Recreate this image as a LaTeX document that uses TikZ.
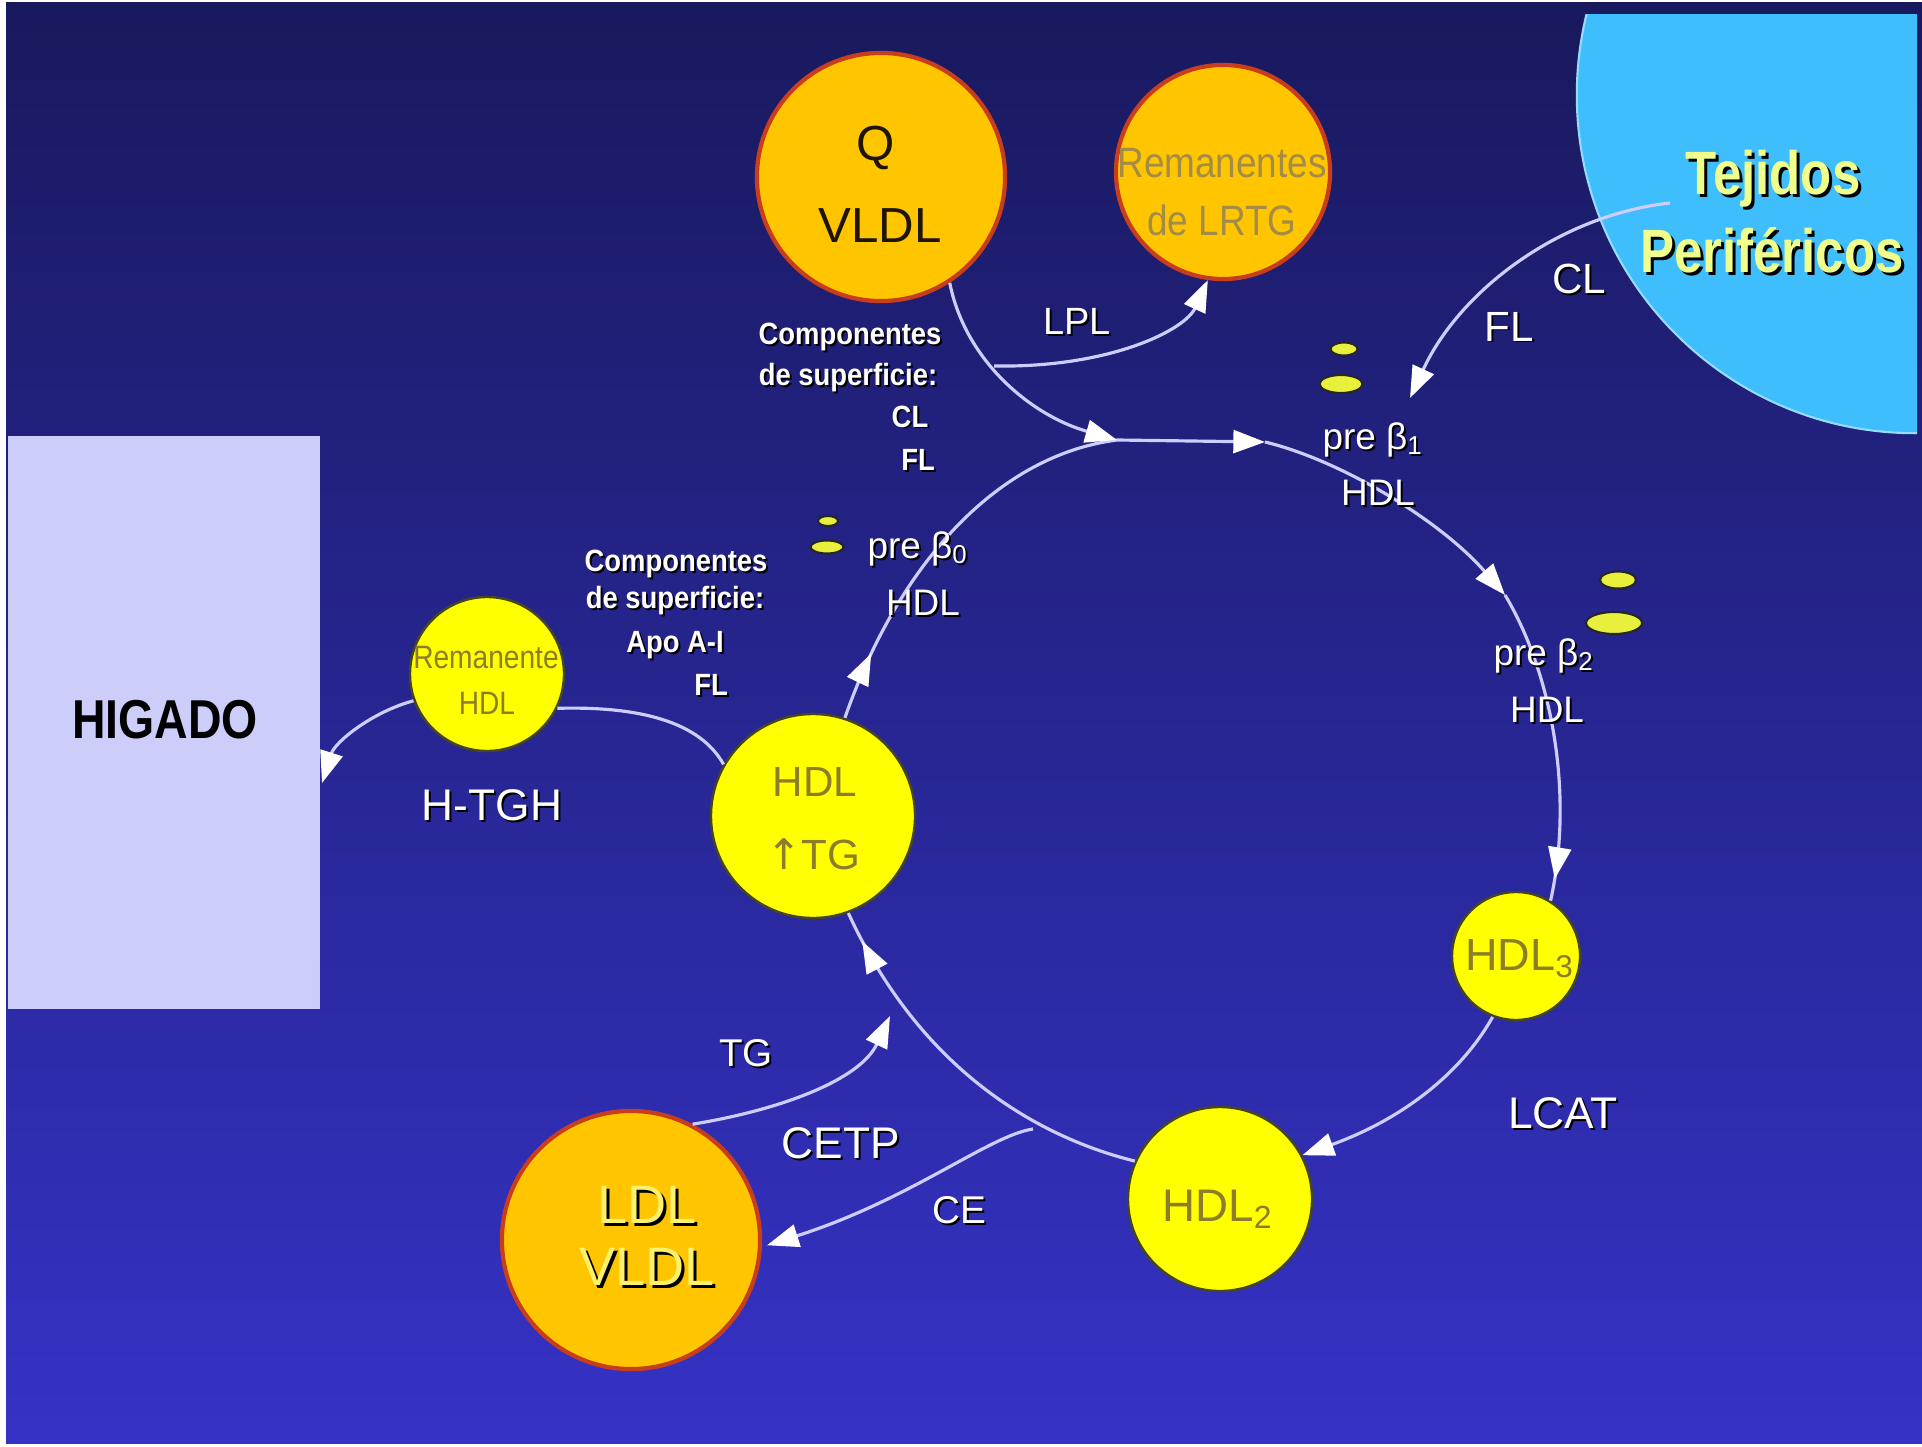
\documentclass[tikz,border=0pt]{standalone}
\usepackage{fontspec}
\setmainfont{Liberation Sans}
\newfontfamily\arrowfont{DejaVu Sans}
\usepackage{graphicx}
\usetikzlibrary{arrows.meta,decorations.markings}

\definecolor{bgtop}{RGB}{25,25,94}
\definecolor{bgbot}{RGB}{53,50,198}
\definecolor{liverfill}{RGB}{205,205,250}
\definecolor{tissuefill}{RGB}{62,190,252}
\definecolor{tissueedge}{RGB}{150,220,255}
\definecolor{gold}{RGB}{255,198,0}
\definecolor{goldedge}{RGB}{200,62,28}
\definecolor{lemon}{RGB}{255,255,0}
\definecolor{lemonedge}{RGB}{70,70,30}
\definecolor{olive}{RGB}{140,125,40}
\definecolor{dullolive}{RGB}{165,140,70}
\definecolor{qtext}{RGB}{30,20,0}
\definecolor{flow}{RGB}{205,205,255}
\definecolor{dotfill}{RGB}{232,240,60}
\definecolor{paleyellow}{RGB}{240,255,140}
\definecolor{ldltext}{RGB}{255,240,110}

\newcommand\fsz[1]{\fontsize{#1}{#1}\selectfont}
\newcommand\tall[2][1.15]{\scalebox{1}[#1]{#2}}
% text with a dark drop shadow: [offset]{options}{name}{position}{text}
\newcommand\shlbl[5][2]{%
  \node[#2,text=black] at ([shift={(#1,#1)}]#4) {#5};
  \node[#2] (#3) at (#4) {#5};}

\tikzset{
  txt/.style={inner sep=0pt, anchor=base},
  wtxt/.style={txt, text=white},
  comptxt/.style={wtxt, font=\bfseries\fsz{7.8}},
  prelbl/.style={wtxt, font=\fsz{10.5}},
  orb/.style={circle, inner sep=0pt},
  goldorb/.style={orb, fill=gold, draw=goldedge, line width=1.2pt},
  lemonorb/.style={orb, fill=lemon, draw=lemonedge, line width=0.7pt},
  flowline/.style={draw=flow, line width=0.9pt},
  headend/.style={-{Triangle[length=9pt,width=6.5pt,color=white]}},
  midtip/.style={postaction={decorate,decoration={markings,
      mark=at position #1 with {\arrow{Triangle[length=9pt,width=6.5pt,color=white]}}}}},
  lipdot/.style={fill=dotfill, draw=black!85, line width=0.6pt},
}

\begin{document}
\begin{tikzpicture}[x=0.01cm,y=-0.01cm]
\useasboundingbox (0,0) rectangle (1922,1446);

% page and background
\fill[white] (0,0) rectangle (1922,1446);
\shade[top color=bgtop, bottom color=bgbot] (6,3) rectangle (1922,1443);

% peripheral tissues
\begin{scope}
  \clip (6,15) rectangle (1917,1443);
  \fill[tissuefill] (1915,95) circle[radius=3.38cm];
  \draw[tissueedge, line width=0.6pt] (1915,95) circle[radius=3.38cm];
\end{scope}

% liver
\node[rectangle, fill=liverfill, minimum width=3.12cm, minimum height=5.73cm,
      inner sep=0pt, anchor=north west] (liver) at (7,435) {};

% particles
\node[goldorb, minimum size=2.48cm] (qvldl) at (881,177) {};
\node[goldorb, minimum size=2.14cm] (remlrtg) at (1223,172) {};
\node[lemonorb, minimum size=1.54cm] (remhdl) at (487,674) {};
\node[lemonorb, minimum size=2.04cm] (hdltg) at (813,816) {};
\node[goldorb, minimum size=2.58cm] (ldl) at (631,1240) {};
\node[lemonorb, minimum size=1.84cm] (hdl2) at (1220,1199) {};
\node[lemonorb, minimum size=1.28cm] (hdl3) at (1516,956) {};

% free ends and junctions
\coordinate (m1) at (1117,440);
\coordinate (m2) at (1265,442);
\coordinate (m3) at (1505,595);
\coordinate (ce0) at (1033,1129);
\coordinate (tg1) at (890,1016);
\coordinate (lpl0) at (994,366);
\coordinate (tj0) at (1670,203);
\coordinate (tj1) at (1410,398);
\coordinate (livin) at (322,783);

% small discoidal particles
\draw[lipdot] (1344,349) ellipse[x radius=0.135cm, y radius=0.065cm];
\draw[lipdot] (1341,384) ellipse[x radius=0.215cm, y radius=0.09cm];
\draw[lipdot] (1618,580) ellipse[x radius=0.18cm, y radius=0.085cm];
\draw[lipdot] (1614,623) ellipse[x radius=0.28cm, y radius=0.11cm];
\draw[lipdot] (828,521) ellipse[x radius=0.10cm, y radius=0.05cm];
\draw[lipdot] (827,547) ellipse[x radius=0.165cm, y radius=0.065cm];

% connectors
\draw[flowline, headend] (remhdl.200) .. controls (372,712) and (335,742) .. (livin);
\draw[flowline] (remhdl.-26) .. controls (640,706) and (700,722) .. (hdltg.150);
\draw[flowline, midtip=0.17] (hdltg.72) .. controls (900,560) and (1000,455) .. (m1);
\draw[flowline, headend] (qvldl.-57) .. controls (965,360) and (1030,415) .. (m1);
\draw[flowline, headend] (m1) -- (m2);
\draw[flowline, headend] (m2) .. controls (1340,460) and (1440,520) .. (m3);
\draw[flowline, midtip=0.93] (m3) .. controls (1550,670) and (1575,790) .. (hdl3.58);
\draw[flowline, headend] (hdl3.249) .. controls (1460,1075) and (1400,1120) .. (hdl2.28);
\draw[flowline, midtip=0.92] (hdl2.156) .. controls (1050,1140) and (925,1080) .. (hdltg.-70);
\draw[flowline, headend, shorten >=1.5pt] (ce0) .. controls (990,1135) and (910,1200) .. (ldl.-3);
\draw[flowline, headend] (ldl.62) .. controls (780,1110) and (860,1080) .. (tg1);
\draw[flowline, headend] (lpl0) .. controls (1110,368) and (1185,330) .. (remlrtg.-98);
\draw[flowline, headend] (tj0) .. controls (1560,215) and (1460,290) .. (tj1);

% texts inside shapes
\node[txt, font=\bfseries\fsz{13.2}] (higado) at (165,738) {\tall[1.18]{HIGADO}};
\shlbl[3]{txt, text=paleyellow, font=\bfseries\fsz{14.5}}{tej1}{1773,195}{\tall[1.2]{Tejidos}}
\shlbl[3]{txt, text=paleyellow, font=\bfseries\fsz{14.5}}{tej2}{1772,273}{\tall[1.2]{Periféricos}}
\node[txt, text=qtext, font=\fsz{14}] (qlbl) at (876,161) {Q};
\node[txt, text=qtext, font=\fsz{14}] (qvl) at (880,243) {VLDL};
\node[txt, text=dullolive, font=\fsz{10.5}] (rem1) at (1222,178) {\tall{Remanentes}};
\node[txt, text=dullolive, font=\fsz{10.5}] (rem2) at (1222,236) {\tall{de LRTG}};
\node[txt, text=olive, font=\fsz{8}] (rh1) at (486,668) {\tall{Remanente}};
\node[txt, text=olive, font=\fsz{8}] (rh2) at (487,714) {\tall{HDL}};
\node[txt, text=olive, font=\fsz{12}] (ht1) at (815,796) {HDL};
\node[txt, text=olive, font=\fsz{12}] (ht2) at (813,869) {{\arrowfont ↑}TG};
\node[txt, text=olive, font=\fsz{12.8}] (h3t) at (1520,970) {HDL\textsubscript{3}};
\node[txt, text=olive, font=\fsz{13}] (h2t) at (1218,1221) {HDL\textsubscript{2}};
\shlbl[3]{txt, text=ldltext, font=\fsz{15.4}}{ldl1}{647,1223}{LDL}
\shlbl[3]{txt, text=ldltext, font=\fsz{15.4}}{ldl2}{647,1285}{VLDL}

% enzyme and transfer labels
\shlbl{wtxt, font=\fsz{12.6}}{htgh}{492,820}{H-TGH}
\shlbl{wtxt, font=\fsz{12.6}}{lcat}{1563,1128}{LCAT}
\shlbl{wtxt, font=\fsz{12.6}}{cetp}{841,1158}{CETP}
\shlbl{wtxt, font=\fsz{11}}{ce}{959,1223}{CE}
\shlbl{wtxt, font=\fsz{11}}{tg}{746,1066}{TG}
\shlbl{wtxt, font=\fsz{10.8}}{lpl}{1077,335}{LPL}
\shlbl{wtxt, font=\fsz{12}}{cl}{1579,294}{CL}
\shlbl{wtxt, font=\fsz{12}}{fl}{1509,341}{FL}

% HDL subclasses
\shlbl{prelbl}{pb0}{918,558}{pre β\textsubscript{0}}
\shlbl{prelbl}{pb0h}{923,615}{HDL}
\shlbl{prelbl}{pb1}{1373,449}{pre β\textsubscript{1}}
\shlbl{prelbl}{pb1h}{1378,505}{HDL}
\shlbl{prelbl}{pb2}{1544,665}{pre β\textsubscript{2}}
\shlbl{prelbl}{pb2h}{1547,722}{HDL}

% surface components
\shlbl{comptxt}{ca1}{850,345}{\tall[1.12]{Componentes}}
\shlbl{comptxt}{ca2}{848,385}{\tall[1.12]{de superficie:}}
\shlbl{comptxt}{ca3}{910,427}{\tall[1.12]{CL}}
\shlbl{comptxt}{ca4}{918,470}{\tall[1.12]{FL}}
\shlbl{comptxt}{cb1}{676,571}{\tall[1.12]{Componentes}}
\shlbl{comptxt}{cb2}{675,608}{\tall[1.12]{de superficie:}}
\shlbl{comptxt}{cb3}{675,652}{\tall[1.12]{Apo A-I}}
\shlbl{comptxt}{cb4}{711,695}{\tall[1.12]{FL}}
\end{tikzpicture}
\end{document}
